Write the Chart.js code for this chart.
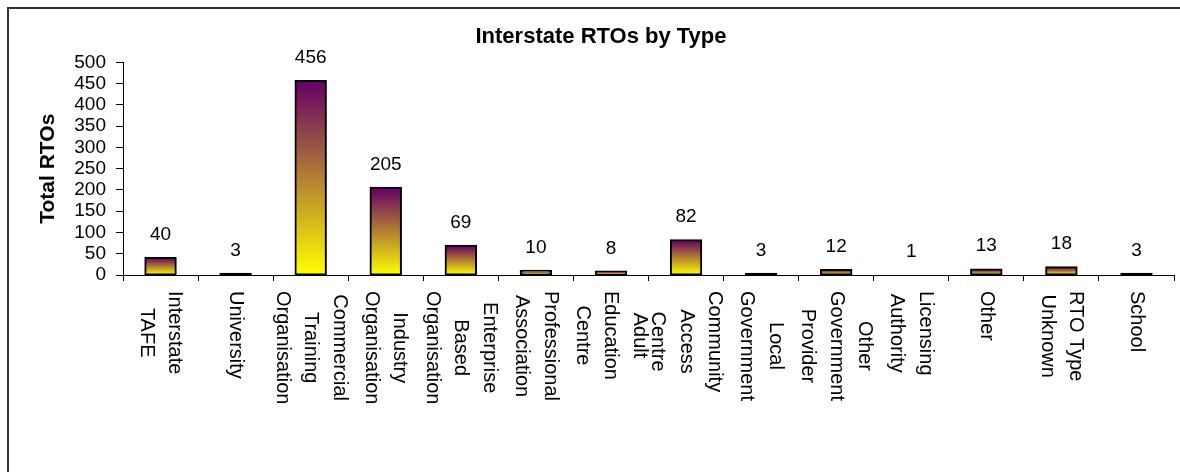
<!DOCTYPE html>
<html>
<head>
<meta charset="utf-8">
<title>Interstate RTOs by Type</title>
<script src="https://cdn.jsdelivr.net/npm/chart.js@4.4.1/dist/chart.umd.min.js"></script>
<style>
  html, body { margin: 0; padding: 0; background: #ffffff; }
  canvas { display: block; }
</style>
</head>
<body>
<canvas id="rtoChart" width="1180" height="472"></canvas>
<script>
// RTO types, one array entry per bar; each inner array holds the wrapped lines of the label
const categories = [
  ['Interstate', 'TAFE'],
  ['University'],
  ['Commercial', 'Training', 'Organisation'],
  ['Industry', 'Organisation'],
  ['Enterprise', 'Based', 'Organisation'],
  ['Professional', 'Association'],
  ['Adult', 'Education', 'Centre'],
  ['Community', 'Access', 'Centre'],
  ['Local', 'Government'],
  ['Other', 'Government', 'Provider'],
  ['Licensing', 'Authority'],
  ['Other'],
  ['RTO Type', 'Unknown'],
  ['School']
];

// Total RTOs of each type
const totalRTOs = [40, 3, 456, 205, 69, 10, 8, 82, 3, 12, 1, 13, 18, 3];

// Value axis range and tick spacing
const yAxisMax = 500;
const yAxisStep = 50;

const FONT = '"Liberation Sans", Arial, sans-serif';

// Pixel height of a bar, taken from the value scale
function barHeight(context) {
  const yScale = context.chart.scales.y;
  if (!context.chart.chartArea || !yScale || context.type !== 'data') return 0;
  return yScale.getPixelForValue(0) - yScale.getPixelForValue(context.parsed.y);
}

// Each bar fades from purple at its top to yellow at the baseline;
// very short bars are all outline, so they read as black
function barGradient(context) {
  const chart = context.chart;
  const h = barHeight(context);
  if (h <= 0) return '#ffff00';
  if (h < 2) return '#000000';
  const yScale = chart.scales.y;
  const base = yScale.getPixelForValue(0);
  const g = chart.ctx.createLinearGradient(0, base - h, 0, base);
  g.addColorStop(0, '#660066');
  g.addColorStop(1, '#ffff00');
  return g;
}

// Chart border (top and left edges)
const framePlugin = {
  id: 'frame',
  beforeDraw(chart) {
    const ctx = chart.ctx;
    ctx.save();
    ctx.strokeStyle = '#333333';
    ctx.lineWidth = 2;
    ctx.beginPath();
    ctx.moveTo(8, chart.height);
    ctx.lineTo(8, 8);
    ctx.lineTo(chart.width, 8);
    ctx.stroke();
    ctx.restore();
  }
};

// Category names, rotated to read top-to-bottom, with centred wrapped lines
const categoryLabelPlugin = {
  id: 'categoryLabels',
  afterDraw(chart) {
    const ctx = chart.ctx;
    const xScale = chart.scales.x;
    const lineGap = 28.5;
    const top = chart.chartArea.bottom + 16;
    ctx.save();
    ctx.font = '20px ' + FONT;
    ctx.fillStyle = '#000000';
    ctx.textAlign = 'center';
    ctx.textBaseline = 'middle';
    categories.forEach((lines, i) => {
      const cx = xScale.getPixelForValue(i);
      const longest = Math.max(...lines.map(l => ctx.measureText(l).width));
      const cy = top + longest / 2;
      const n = lines.length;
      lines.forEach((line, j) => {
        const x = cx + ((n - 1) / 2 - j) * lineGap;
        ctx.save();
        ctx.translate(x, cy);
        ctx.rotate(Math.PI / 2);
        ctx.fillText(line, 0, 0);
        ctx.restore();
      });
    });
    ctx.restore();
  }
};

// Value printed above each bar
const valueLabelPlugin = {
  id: 'valueLabels',
  afterDatasetsDraw(chart) {
    const ctx = chart.ctx;
    const meta = chart.getDatasetMeta(0);
    ctx.save();
    ctx.font = '19px ' + FONT;
    ctx.fillStyle = '#000000';
    ctx.textAlign = 'center';
    ctx.textBaseline = 'alphabetic';
    meta.data.forEach((bar, i) => {
      ctx.fillText(String(totalRTOs[i]), bar.x, bar.y - 18);
    });
    ctx.restore();
  }
};

Chart.defaults.color = '#000000';
Chart.defaults.font.family = FONT;

new Chart(document.getElementById('rtoChart'), {
  type: 'bar',
  data: {
    labels: categories.map(l => l.join(' ')),
    datasets: [{
      label: 'Total RTOs',
      data: totalRTOs,
      backgroundColor: barGradient,
      borderColor: '#000000',
      borderWidth: 2,
      borderSkipped: false,
      // outline sits centred on the bar edge; hairline bars stay flat on the axis
      inflateAmount: (context) => (barHeight(context) < 1 ? 0 : 1),
      barPercentage: 0.405,
      categoryPercentage: 1
    }]
  },
  options: {
    responsive: false,
    animation: false,
    events: [],
    layout: { padding: { left: 28, right: 6, top: 0, bottom: 0 } },
    plugins: {
      legend: { display: false },
      tooltip: { enabled: false },
      title: {
        display: true,
        text: 'Interstate RTOs by Type',
        color: '#000000',
        font: { size: 22, weight: 'bold', lineHeight: 1.2 },
        padding: { top: 24, bottom: 12 }
      }
    },
    scales: {
      x: {
        offset: true,
        border: { display: true, color: '#000000', width: 1 },
        grid: {
          offset: true,
          drawOnChartArea: false,
          drawTicks: true,
          tickLength: 6,
          color: '#000000'
        },
        ticks: { display: false },
        afterFit(scale) { scale.height = 197; }
      },
      y: {
        min: 0,
        max: yAxisMax,
        border: { display: true, color: '#000000', width: 1 },
        grid: {
          drawOnChartArea: false,
          drawTicks: true,
          tickLength: 7,
          color: '#000000'
        },
        ticks: {
          stepSize: yAxisStep,
          autoSkip: false,
          padding: 10,
          font: { size: 19, lineHeight: 1 },
          color: '#000000'
        },
        title: {
          display: true,
          text: 'Total RTOs',
          color: '#000000',
          font: { size: 21, weight: 'bold', lineHeight: 1.2 },
          padding: { top: 8, bottom: 0 }
        },
        afterFit(scale) { scale.width = 95; }
      }
    }
  },
  plugins: [framePlugin, valueLabelPlugin, categoryLabelPlugin]
});
</script>
</body>
</html>
